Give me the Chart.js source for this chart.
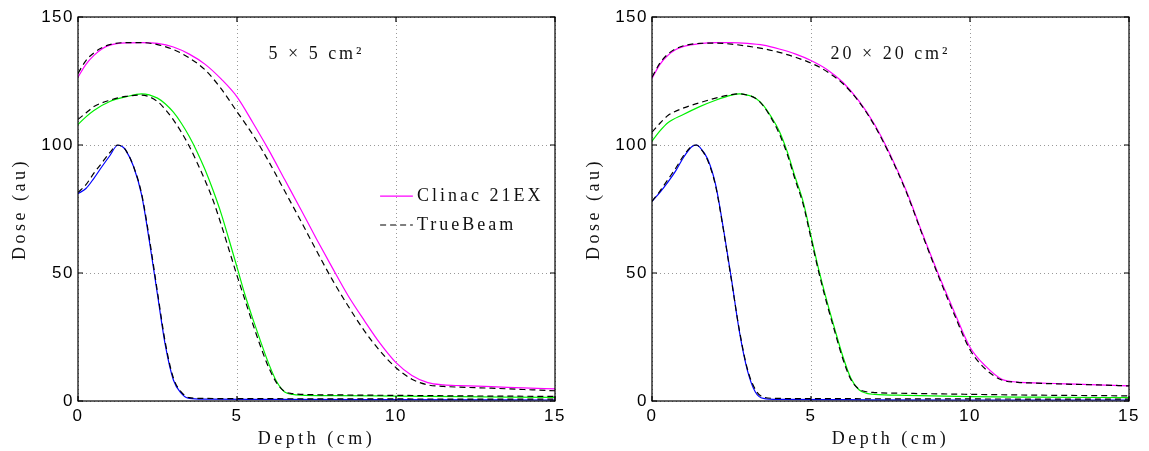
<!DOCTYPE html>
<html>
<head>
<meta charset="utf-8">
<script src="https://cdn.jsdelivr.net/npm/chart.js@4.4.1/dist/chart.umd.min.js"></script>
<style>
  html, body { margin: 0; padding: 0; background: #fff; }
  canvas { position: absolute; top: 0; }
  #left { left: 0; }
  #right { left: 574px; }
</style>
</head>
<body>
<canvas id="left" width="574" height="451"></canvas>
<canvas id="right" width="575" height="451"></canvas>
<script>
// depth grids (cm), one per beam
const blueDepth = [0, 0.25, 0.5, 0.75, 1, 1.25, 1.4, 1.5, 1.75, 2, 2.25, 2.5, 2.75, 3, 3.25, 3.5, 4, 6, 10, 15];
const greenDepth = [0, 0.25, 0.5, 1, 1.5, 2, 2.5, 2.75, 3, 3.25, 3.5, 3.75, 4, 4.25, 4.5, 4.75, 5, 5.25, 5.5, 5.75, 6, 6.25, 6.5, 6.75, 7, 8, 10, 12, 15];
const magentaDepth = [0, 0.25, 0.5, 0.75, 1, 1.5, 2, 2.5, 3, 3.5, 4, 4.5, 5, 5.5, 6, 6.5, 7, 7.5, 8, 8.5, 9, 9.5, 10, 10.5, 11, 11.5, 12, 13, 14, 15];

// 5 x 5 field
const clinac5Blue = [81, 83, 87, 91.5, 95.8, 99.9, 99.3, 98, 91.5, 80.5, 62, 41.5, 21.5, 8.2, 3, 1, 0.7, 0.6, 0.5, 0.4];
const trueBeam5Blue = [81.5, 84.5, 89, 93, 97, 100, 99.3, 98, 91.5, 81, 63, 42.5, 22.5, 9, 3.5, 1.3, 1.0, 0.9, 0.8, 0.7];
const clinac5Green = [108, 111, 113.5, 117, 118.8, 120, 118.3, 116, 112.8, 108.5, 103.3, 97.2, 90.2, 82.2, 73.3, 63, 52.3, 41.5, 32, 23, 14.5, 7.5, 3.5, 2.6, 2.3, 2.1, 1.9, 1.7, 1.4];
const trueBeam5Green = [110, 112.5, 115, 117.5, 119, 119.5, 117, 113.8, 109.8, 105, 99.5, 93, 86, 78.3, 69, 59, 49, 39.5, 30, 21, 13, 7, 3.7, 2.9, 2.6, 2.4, 2.2, 2.0, 1.8];
const clinac5Magenta = [126.5, 131.5, 135, 137.5, 139, 139.9, 140, 139.7, 138.3, 135.5, 131.5, 125.8, 118.8, 108.7, 98, 86.5, 75, 63.3, 52, 41, 31.5, 22.5, 15, 10, 7.2, 6.3, 6, 5.6, 5.1, 4.7];
const trueBeam5Magenta = [128, 133, 136, 138, 139.2, 140, 140, 139.2, 137.3, 134, 129.3, 122, 113, 104, 93.5, 82, 70.5, 58.7, 47.3, 37, 27.5, 19.5, 13, 8.5, 6.3, 5.7, 5.4, 5, 4.5, 4.0];

// 20 x 20 field
const clinac20Blue = [78, 81.5, 85.5, 90, 95.3, 99.3, 100, 99.2, 94.5, 84.5, 67, 47.5, 27, 12, 3.5, 1, 0.6, 0.5, 0.4, 0.4];
const trueBeam20Blue = [78, 82, 86.5, 91, 96, 99.5, 100, 99, 94, 84, 66.5, 47, 27.5, 12.5, 4.5, 1.5, 1.0, 0.9, 0.8, 0.7];
const clinac20Green = [101.5, 105.5, 108.7, 112, 115, 117.5, 119.5, 120, 119.5, 118.4, 115.5, 111, 105.5, 97.5, 87.5, 78, 64.5, 51, 39, 28, 17.5, 9, 4.5, 3, 2.6, 2.2, 1.7, 1.5, 1.3];
const trueBeam20Green = [105, 108.5, 111.5, 114.5, 116.5, 118.3, 119.7, 120, 119.5, 118.3, 115.3, 110.5, 104.5, 96.5, 86.5, 77, 63.5, 50, 38, 27, 16.5, 8.5, 4.7, 3.6, 3.3, 3.0, 2.6, 2.3, 2.0];
const clinac20Magenta = [126, 131.5, 135, 137.3, 138.5, 139.6, 140, 140, 139.7, 139, 137.5, 135.6, 133, 129.5, 124.5, 117.3, 108, 96, 82, 65.5, 49.7, 35, 21, 13.5, 8.5, 7.4, 7.1, 6.7, 6.3, 5.9];
const trueBeam20Magenta = [126.5, 132, 135.5, 137.6, 138.8, 139.7, 139.8, 139.4, 138.6, 137.6, 136.2, 134.3, 132, 128.7, 124, 117, 107.5, 95.5, 81.5, 65, 49, 34, 20, 12.3, 8.2, 7.3, 7.0, 6.6, 6.3, 5.9];

const seriesNames = ['Clinac 21EX', 'TrueBeam'];
const fieldLabels = ['5 × 5 cm²', '20 × 20 cm²'];

function points(depth, dose) {
  return depth.map((d, i) => ({ x: d, y: dose[i] }));
}

function clinacLine(data, color, label) {
  return { label: label, data: data, borderColor: color, borderWidth: 1.2, order: 1 };
}

function trueBeamLine(data, label) {
  return { label: label, data: data, borderColor: '#000', borderWidth: 1.2, borderDash: [6, 4], order: 0 };
}

const serifFont = '18px "Liberation Serif"';

// box, inward ticks, field size text and the legend
const framePlugin = {
  id: 'frame',
  afterDatasetsDraw(chart, args, opts) {
    const { ctx, chartArea: a } = chart;
    const x = chart.scales.x, y = chart.scales.y;
    ctx.save();
    ctx.strokeStyle = '#000';
    ctx.lineWidth = 1.2;
    ctx.strokeRect(a.left, a.top, a.right - a.left, a.bottom - a.top);
    ctx.beginPath();
    x.ticks.forEach(t => {
      const px = x.getPixelForValue(t.value);
      ctx.moveTo(px, a.bottom); ctx.lineTo(px, a.bottom - 5);
      ctx.moveTo(px, a.top); ctx.lineTo(px, a.top + 5);
    });
    y.ticks.forEach(t => {
      const py = y.getPixelForValue(t.value);
      ctx.moveTo(a.left, py); ctx.lineTo(a.left + 5, py);
      ctx.moveTo(a.right, py); ctx.lineTo(a.right - 5, py);
    });
    ctx.stroke();

    ctx.font = serifFont;
    ctx.letterSpacing = '3px';
    ctx.fillStyle = '#111';
    ctx.textBaseline = 'middle';
    ctx.textAlign = 'center';
    ctx.fillText(opts.field, x.getPixelForValue(7.5), y.getPixelForValue(135.5));

    if (opts.legend) {
      const entries = chart.data.datasets.filter(d => d.label);
      const rows = [80, 68.75];
      ctx.textAlign = 'left';
      entries.forEach((d, i) => {
        const py = y.getPixelForValue(rows[i]);
        ctx.beginPath();
        ctx.strokeStyle = d.borderColor;
        ctx.lineWidth = d.borderWidth;
        ctx.setLineDash(d.borderDash || []);
        ctx.moveTo(x.getPixelForValue(9.5), py);
        ctx.lineTo(x.getPixelForValue(10.53), py);
        ctx.stroke();
        ctx.fillText(d.label, x.getPixelForValue(10.66), py);
      });
    }
    ctx.restore();
  }
};

// letter spacing for the tick labels and axis titles
const spacingPlugin = {
  id: 'spacing',
  beforeDraw(chart) {
    Object.values(chart.scales).forEach(s => {
      if (s._spaced) return;
      const title = s.drawTitle, labels = s.drawLabels;
      s.drawTitle = function (...args) { this.ctx.letterSpacing = '3.5px'; title.apply(this, args); this.ctx.letterSpacing = '0px'; };
      s.drawLabels = function (...args) { this.ctx.letterSpacing = '1.5px'; labels.apply(this, args); this.ctx.letterSpacing = '0px'; };
      s._spaced = true;
    });
  }
};

const tickFont = { family: '"Liberation Sans", Arial', size: 17 };
const titleFont = { family: '"Liberation Serif", serif', size: 18 };

function makeChart(id, datasets, field, legend, rightPad) {
  return new Chart(document.getElementById(id), {
    type: 'line',
    data: { datasets: datasets },
    options: {
      responsive: false,
      animation: false,
      layout: { padding: { top: 17, right: rightPad, left: 0, bottom: 0 } },
      elements: {
        point: { radius: 0 },
        line: { cubicInterpolationMode: 'monotone', fill: false }
      },
      plugins: {
        legend: { display: false },
        tooltip: { enabled: false },
        frame: { field: field, legend: legend }
      },
      scales: {
        x: {
          type: 'linear',
          min: 0,
          max: 15,
          afterFit(s) { s.height = 50; },
          ticks: { stepSize: 5, font: tickFont, color: '#000', padding: 5, maxRotation: 0 },
          grid: { color: '#999', drawTicks: false },
          border: { display: false, dash: [1, 3] },
          title: { display: true, text: 'Depth (cm)', font: titleFont, color: '#111', padding: { top: 0, bottom: 1 } }
        },
        y: {
          min: 0,
          max: 150,
          afterFit(s) { s.width = 78; },
          ticks: { stepSize: 50, font: tickFont, color: '#000', padding: 4 },
          grid: { color: '#999', drawTicks: false },
          border: { display: false, dash: [1, 3] },
          title: { display: true, text: 'Dose (au)', font: titleFont, color: '#111', padding: { top: 9, bottom: 0 } }
        }
      }
    },
    plugins: [framePlugin, spacingPlugin]
  });
}

makeChart('left', [
  clinacLine(points(magentaDepth, clinac5Magenta), '#ff00ff', seriesNames[0]),
  trueBeamLine(points(magentaDepth, trueBeam5Magenta), seriesNames[1]),
  clinacLine(points(greenDepth, clinac5Green), '#00f000'),
  trueBeamLine(points(greenDepth, trueBeam5Green)),
  clinacLine(points(blueDepth, clinac5Blue), '#0000ff'),
  trueBeamLine(points(blueDepth, trueBeam5Blue))
], fieldLabels[0], true, 19);

makeChart('right', [
  clinacLine(points(magentaDepth, clinac20Magenta), '#ff00ff'),
  trueBeamLine(points(magentaDepth, trueBeam20Magenta)),
  clinacLine(points(greenDepth, clinac20Green), '#00f000'),
  trueBeamLine(points(greenDepth, trueBeam20Green)),
  clinacLine(points(blueDepth, clinac20Blue), '#0000ff'),
  trueBeamLine(points(blueDepth, trueBeam20Blue))
], fieldLabels[1], false, 20);
</script>
</body>
</html>
